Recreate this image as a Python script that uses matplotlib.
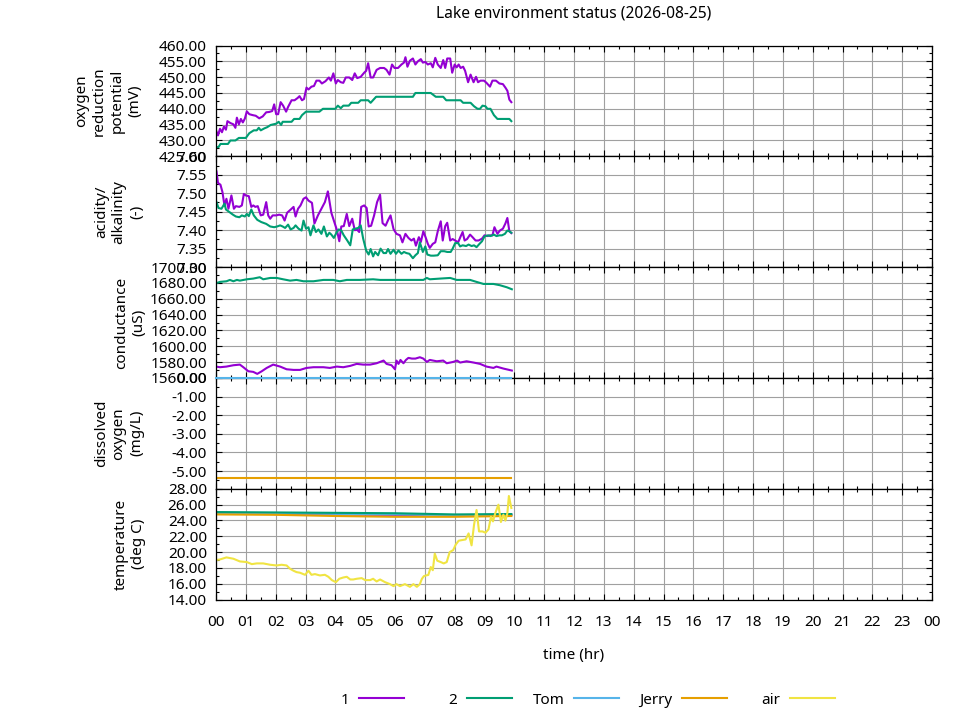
import matplotlib
matplotlib.use('Agg')
import matplotlib.pyplot as plt
import numpy as np
from matplotlib.ticker import MultipleLocator, FormatStrFormatter, FixedLocator, FixedFormatter

plt.rcParams['font.family'] = ['Noto Sans', 'DejaVu Sans']
plt.rcParams['font.size'] = 11

# ---------------- data (time in minutes since 00:00) ----------------
orp1_t = [0,4,8,12,16,20,23,29,35,39,42,46,50,54,58,62,67,74,80,87,94,101,107,113,117,121,125,130,135,141,145,152,158,164,168,173,177,182,186,192,197,202,208,213,220,227,231,236,241,245,251,256,261,268,274,279,284,291,298,302,306,311,316,323,330,338,343,349,354,359,366,373,378,381,385,390,396,401,406,412,416,421,426,432,436,441,446,452,457,461,465,471,475,480,484,488,492,497,501,507,512,518,523,527,532,539,544,551,556,563,570,577,582,586,590,594]
orp1_v = [433.2,431.6,433.7,432.6,434.4,433.4,436.1,435.5,435.1,434.0,437.2,435.1,436.8,435.7,436.9,439.2,438.3,438.0,437.8,437.0,437.6,438.9,439.0,439.3,441.4,438.3,438.3,442.1,441.0,439.1,440.6,442.7,442.7,443.4,444.0,442.7,443.1,446.7,446.1,447.0,447.2,448.9,448.9,448.0,448.7,449.9,448.9,451.2,448.0,449.1,448.4,448.2,449.9,449.9,449.1,451.2,449.7,450.1,451.4,452.0,454.4,449.9,449.9,452.3,452.9,452.9,452.3,450.8,454.0,452.9,452.9,454.0,454.6,456.3,453.3,455.2,455.9,454.0,455.0,455.7,454.6,454.8,454.0,454.4,453.1,456.1,454.0,452.9,455.4,452.9,455.9,455.9,451.4,454.0,453.1,454.0,452.9,453.3,452.0,448.4,450.8,448.4,450.1,448.4,448.9,448.9,448.2,447.0,448.9,448.9,448.0,447.8,446.7,445.7,442.9,442.1]

orp2_t = [0,5,9,24,29,39,46,60,67,76,82,86,90,97,103,110,121,126,131,134,152,157,168,173,181,208,215,240,245,251,256,267,272,286,291,306,311,322,396,401,432,442,457,463,492,497,512,519,526,531,536,542,546,552,559,566,590,594]
orp2_v = [427.9,427.9,428.9,428.9,430.0,430.0,430.8,430.8,432.3,433.2,433.2,434.0,433.2,433.8,434.2,434.9,435.3,435.9,434.9,435.9,435.9,436.8,436.8,438.0,439.1,439.1,440.0,440.0,441.0,440.2,441.0,441.0,441.9,441.9,442.7,442.7,441.9,443.8,443.8,445.0,445.0,443.8,443.8,442.7,442.7,441.9,441.9,440.8,440.0,440.0,441.0,440.8,440.0,440.0,438.0,436.8,436.8,436.1]

ph1_t = [1,4,9,13,17,21,25,31,36,40,47,52,56,60,66,71,75,79,84,90,95,101,105,109,114,121,127,133,138,143,152,156,160,165,170,176,181,186,193,198,205,212,219,225,232,237,243,248,252,257,263,268,274,279,284,288,292,298,303,307,312,318,324,330,335,341,346,351,357,363,370,375,381,387,393,398,402,408,412,417,422,426,430,436,441,446,452,456,461,465,471,476,481,487,492,496,500,505,511,516,522,528,535,540,546,551,556,560,566,571,577,582,586,590,594]
ph1_v = [7.559,7.528,7.523,7.503,7.467,7.485,7.458,7.494,7.458,7.465,7.463,7.467,7.498,7.494,7.492,7.463,7.467,7.463,7.465,7.440,7.442,7.476,7.440,7.431,7.440,7.440,7.442,7.440,7.426,7.447,7.458,7.463,7.437,7.458,7.467,7.485,7.489,7.480,7.474,7.418,7.440,7.458,7.476,7.505,7.447,7.426,7.401,7.370,7.410,7.411,7.444,7.411,7.431,7.400,7.401,7.395,7.463,7.467,7.460,7.410,7.412,7.440,7.476,7.496,7.419,7.412,7.427,7.440,7.403,7.390,7.386,7.367,7.390,7.379,7.372,7.377,7.358,7.381,7.368,7.397,7.379,7.363,7.352,7.363,7.367,7.397,7.424,7.372,7.411,7.420,7.372,7.376,7.372,7.367,7.383,7.395,7.372,7.376,7.388,7.381,7.372,7.372,7.377,7.386,7.384,7.386,7.386,7.408,7.390,7.399,7.404,7.418,7.433,7.397,7.392]

ph2_t = [1,5,11,15,17,20,27,34,40,47,52,58,62,66,71,76,83,91,101,109,117,123,129,134,139,145,150,156,160,162,166,172,176,181,186,190,196,201,206,212,217,223,228,232,237,243,247,252,257,264,270,275,280,286,291,296,302,307,311,316,320,326,331,337,342,346,351,357,362,367,373,378,383,389,396,401,406,410,416,421,425,432,438,446,452,459,465,472,476,481,487,491,496,503,508,514,519,524,530,535,540,547,552,559,564,570,575,581,586,590,594]
ph2_v = [7.476,7.460,7.458,7.467,7.472,7.456,7.449,7.442,7.437,7.435,7.440,7.437,7.444,7.438,7.456,7.440,7.428,7.422,7.417,7.410,7.408,7.410,7.413,7.410,7.406,7.415,7.402,7.406,7.413,7.410,7.404,7.399,7.426,7.404,7.408,7.386,7.413,7.395,7.402,7.390,7.410,7.383,7.393,7.388,7.379,7.395,7.402,7.399,7.386,7.372,7.359,7.402,7.404,7.406,7.413,7.377,7.345,7.334,7.349,7.329,7.341,7.332,7.350,7.338,7.338,7.349,7.336,7.347,7.336,7.345,7.336,7.341,7.338,7.336,7.324,7.332,7.338,7.367,7.341,7.356,7.334,7.331,7.331,7.332,7.343,7.343,7.341,7.341,7.350,7.365,7.365,7.356,7.359,7.357,7.361,7.357,7.359,7.354,7.363,7.370,7.383,7.386,7.384,7.388,7.384,7.386,7.386,7.390,7.399,7.397,7.393]

cond2_t = [0,8,21,28,35,42,48,62,75,88,95,109,122,135,149,162,176,196,216,236,249,263,290,316,330,357,390,417,424,430,451,471,484,511,524,538,558,571,585,595]
cond2_v = [1679.6,1681.3,1682.1,1683.8,1682.1,1683.8,1682.9,1684.6,1685.5,1687.2,1684.6,1686.3,1686.3,1684.6,1682.9,1683.8,1682.1,1682.1,1683.8,1683.8,1682.1,1683.8,1683.8,1684.6,1683.8,1683.8,1683.8,1683.8,1686.3,1684.6,1685.5,1686.3,1683.8,1683.8,1681.3,1678.7,1678.7,1677.1,1674.5,1672.0]

cond1_t = [0,8,21,35,48,55,65,75,83,92,102,115,129,142,156,169,182,196,216,229,243,256,270,283,296,310,323,337,343,353,360,363,367,371,377,382,387,394,401,410,417,424,430,444,457,464,471,477,485,491,504,518,531,544,558,564,578,595]
cond1_v = [1574.3,1573.5,1574.3,1576.0,1576.8,1573.5,1568.4,1567.6,1565.1,1568.4,1572.6,1576.8,1574.3,1570.9,1570.1,1570.1,1572.6,1573.5,1573.5,1572.6,1574.3,1573.5,1575.2,1577.7,1576.8,1576.8,1578.5,1581.9,1577.7,1576.0,1570.9,1581.9,1577.7,1582.7,1578.5,1582.7,1585.3,1584.4,1584.4,1586.1,1584.4,1580.2,1582.7,1581.0,1581.9,1578.5,1579.4,1580.2,1581.9,1579.4,1581.0,1579.4,1577.7,1574.3,1572.6,1574.3,1571.8,1569.3]

do_t = [0, 594]
do_tom = [0.0, 0.0]
do_jerry = [-5.4, -5.4]

temp_t = [0, 120, 240, 360, 480, 594]
temp1 = [24.85, 24.80, 24.75, 24.70, 24.65, 24.70]
temp2 = [25.05, 25.00, 24.95, 24.90, 24.75, 24.80]
temp_tom = [24.92, 24.87, 24.82, 24.77, 24.62, 24.67]
temp_jerry = [24.75, 24.70, 24.55, 24.45, 24.45, 24.55]

air_t = [0,8,21,35,48,62,72,82,95,109,122,132,142,149,156,162,169,179,186,192,199,209,219,226,233,241,248,256,263,270,276,283,293,300,310,316,323,330,340,350,357,363,370,380,390,397,404,410,414,418,423,427,432,436,440,445,452,458,464,470,477,482,488,495,502,508,514,519,524,529,536,542,548,553,557,562,568,573,578,582,586,589,594]
air_v = [18.98,19.06,19.32,19.15,18.81,18.73,18.47,18.56,18.56,18.39,18.30,18.39,18.30,17.88,17.63,17.46,17.38,17.12,17.63,17.12,17.21,17.04,17.12,16.87,16.45,16.19,16.62,16.78,16.87,16.53,16.53,16.62,16.70,16.45,16.45,16.62,16.28,16.53,16.19,15.94,15.69,15.94,15.69,15.94,15.60,15.94,15.60,15.94,16.6,16.95,17.05,17.1,18.1,17.7,19.8,18.9,18.73,18.56,18.73,19.99,20.24,20.92,21.43,21.51,21.59,22.35,20.84,23.45,25.31,22.6,22.6,22.44,22.86,24.46,23.87,24.97,25.98,23.79,24.72,23.96,24.89,27.08,25.56]

series_names = ['1', '2', 'Tom', 'Jerry', 'air']
x_tick_labels = ['%02d' % (h % 24) for h in range(25)]
title = 'Lake environment status (2026-08-25)'
ylabels = ['oxygen\nreduction\npotential\n(mV)', 'acidity/\nalkalinity\n(-)',
           'conductance\n(uS)', 'dissolved\noxygen\n(mg/L)', 'temperature\n(deg C)']
ylims = [(425, 460), (7.30, 7.60), (1560, 1700), (-5.95, 0), (14, 28)]
ymajor = [5, 0.05, 20, 1, 2]

C1, C2, CT, CJ, CA = '#9400d3', '#009e73', '#56b4e9', '#e69f00', '#f0e442'
LW = 1.5

def hrs(t):
    return np.asarray(t, dtype=float) / 60.0

fig = plt.figure(figsize=(9.6, 7.2), dpi=100)
W, H = 960.0, 720.0
left_px, right_px = 216.0, 932.0
top_px, panel_h = 45.5, 110.8

axes = []
for i in range(5):
    t0 = top_px + i * panel_h
    ax = fig.add_axes([left_px / W, 1 - (t0 + panel_h) / H, (right_px - left_px) / W, panel_h / H])
    ax.set_xlim(0, 24)
    ax.set_ylim(*ylims[i])
    ax.xaxis.set_major_locator(MultipleLocator(1))
    ax.xaxis.set_minor_locator(MultipleLocator(0.5))
    ax.yaxis.set_major_locator(MultipleLocator(ymajor[i]))
    ax.yaxis.set_minor_locator(MultipleLocator(ymajor[i] / 2))
    ax.yaxis.set_major_formatter(FormatStrFormatter('%.2f'))
    ax.tick_params(which='both', direction='in', top=True, right=True, color='black', width=0.8)
    ax.tick_params(which='major', length=4.5, labelsize=11, pad=6.5)
    ax.tick_params(which='minor', length=2.3)
    ax.tick_params(axis='x', labelbottom=(i == 4), pad=11)
    ax.grid(True, which='major', color='#a0a0a0', lw=0.8)
    ax.set_axisbelow(True)
    for sp in ax.spines.values():
        sp.set_linewidth(0.9)
        sp.set_zorder(2.5)
    axes.append(ax)

axes[4].xaxis.set_major_formatter(FixedFormatter(x_tick_labels))
axes[4].xaxis.set_major_locator(FixedLocator(list(range(25))))

l1, = axes[0].plot(hrs(orp1_t), orp1_v, color=C1, lw=LW)
l2, = axes[0].plot(hrs(orp2_t), orp2_v, color=C2, lw=LW)
axes[1].plot(hrs(ph1_t), ph1_v, color=C1, lw=LW)
axes[1].plot(hrs(ph2_t), ph2_v, color=C2, lw=LW)
axes[2].plot(hrs(cond1_t), cond1_v, color=C1, lw=LW)
axes[2].plot(hrs(cond2_t), cond2_v, color=C2, lw=LW)
lt, = axes[3].plot(hrs(do_t), do_tom, color=CT, lw=LW, clip_on=False, zorder=3)
lj, = axes[3].plot(hrs(do_t), do_jerry, color=CJ, lw=LW)
axes[4].plot(hrs(temp_t), temp1, color=C1, lw=LW)
axes[4].plot(hrs(temp_t), temp_tom, color=CT, lw=LW)
axes[4].plot(hrs(temp_t), temp2, color=C2, lw=LW)
axes[4].plot(hrs(temp_t), temp_jerry, color=CJ, lw=LW)
la, = axes[4].plot(hrs(air_t), air_v, color=CA, lw=LW)

# y labels
line_gap = 21.9
for i, lab in enumerate(ylabels):
    n = lab.count('\n') + 1
    xc = 141.0 - (n - 1) * line_gap / 2
    yc = top_px + (i + 0.5) * panel_h
    fig.text(xc / W, 1 - yc / H, lab, rotation=90, ha='center', va='center',
             multialignment='center', linespacing=1.25, fontsize=11)

fig.text(574 / W, 1 - 14 / H, title, ha='center', va='center', fontsize=11.2)
fig.text(574 / W, 1 - 655 / H, 'time (hr)', ha='center', va='center', fontsize=11)

# legend, one entry per slot (gnuplot style: text then sample)
handles = [l1, l2, lt, lj, la]
ends = [404, 512, 619, 727, 835]
for h, name, e in zip(handles, series_names, ends):
    fig.legend([h], [name], loc='center right', bbox_to_anchor=(e / W, 1 - 700 / H),
               frameon=False, markerfirst=False, handlelength=2.92, handletextpad=0.65,
               borderpad=0, borderaxespad=0, fontsize=11)

fig.savefig('out.png', dpi=100)
